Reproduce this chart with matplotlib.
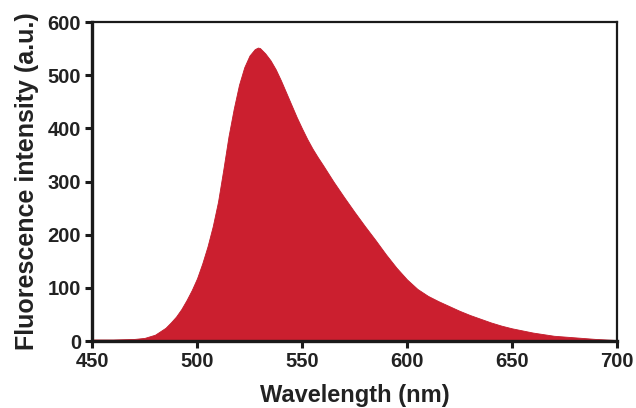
import numpy as np
import matplotlib
matplotlib.use('Agg')
import matplotlib.pyplot as plt

# emission spectrum, denser sampling around the peak
wavelength = [450, 460, 470, 475, 480, 485, 487.5, 490, 492.5, 495, 497.5, 500,
              502.5, 505, 507.5, 510, 512.5, 515, 517.5, 520, 522.5, 525, 527.5,
              529, 530, 532.5, 535, 537.5, 540, 542.5, 545, 547.5, 550, 552.5,
              555, 557.5, 560, 565, 570, 575, 580, 585, 590, 595, 600, 605, 610, 615,
              620, 625, 630, 635, 640, 645, 650, 655, 660, 665, 670, 680, 690, 700]
intensity = [3, 3, 4, 6, 12, 25, 35, 46, 60, 77, 96, 118,
             146, 178, 216, 262, 322, 385, 437, 482, 515, 537, 549,
             552, 551, 541, 528, 511, 490, 467, 444, 421, 400, 380,
             362, 346, 331, 300, 271, 243, 216, 190, 163, 138, 116, 98, 85, 75,
             66, 57, 49, 42, 35, 29, 24, 20, 16, 13, 10, 7, 4, 2]

xticks = [450, 500, 550, 600, 650, 700]
yticks = [0, 100, 200, 300, 400, 500, 600]

plt.rcParams['font.family'] = ['Liberation Sans', 'DejaVu Sans']
plt.rcParams['font.weight'] = 'bold'

fig = plt.figure(figsize=(6.36, 4.08), dpi=100)
ax = fig.add_axes([0.1447, 0.164, 0.8253, 0.782])

ax.fill_between(wavelength, intensity, 0, color='#cb1f2f', lw=0.6, edgecolor='#c21c2c')

ax.set_xlim(450, 700)
ax.set_ylim(0, 600)
ax.set_xticks(xticks)
ax.set_yticks(yticks)

for s in ['left', 'bottom']:
    ax.spines[s].set_linewidth(2.4)
for s in ['top', 'right']:
    ax.spines[s].set_linewidth(1.6)
for s in ax.spines.values():
    s.set_color('#1a1a1a')

ax.tick_params(direction='out', length=5, width=2.2, color='#1a1a1a',
               labelsize=14.5, labelcolor='#222222', pad=3)

ax.set_xlabel('Wavelength (nm)', fontsize=17, fontweight='bold', color='#222222', labelpad=9)
ax.set_ylabel('Fluorescence intensity (a.u.)', fontsize=18, fontweight='bold', color='#222222', labelpad=6)

fig.savefig('out.png', dpi=100)
